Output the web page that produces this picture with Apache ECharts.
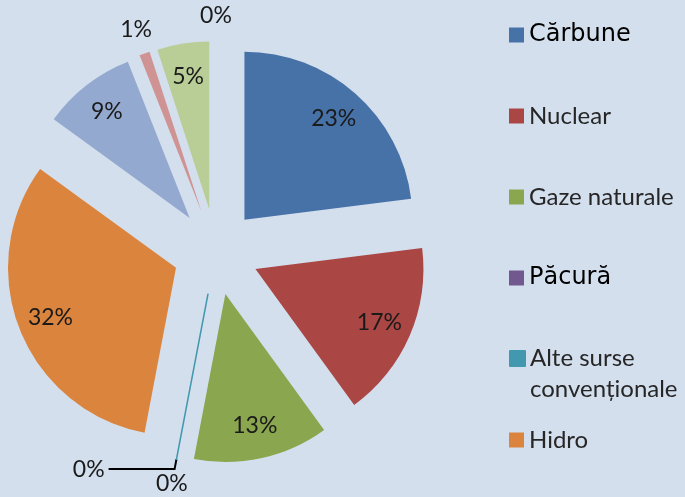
<!DOCTYPE html>
<html>
<head>
<meta charset="utf-8">
<script src="https://cdn.jsdelivr.net/npm/echarts@6/dist/echarts.min.js"></script>
<style>
  html, body { margin: 0; padding: 0; background: #D4DFEE; }
  #chart { width: 685px; height: 497px; }
</style>
</head>
<body>
<div id="chart"></div>
<script>
// ---- data ----
const categories = ['Cărbune', 'Nuclear', 'Gaze naturale', 'Păcură', 'Alte surse convenționale', 'Hidro', 'Eolian', 'Solar', 'Biomasă', 'Alte surse regenerabile'];
const values = [23, 17, 13, 0, 0, 32, 9, 1, 5, 0];
const legendShown = ['Cărbune', 'Nuclear', 'Gaze naturale', 'Păcură', 'Alte surse convenționale', 'Hidro'];
const colors = ['#4672A8', '#AA4644', '#8AA64E', '#71588F', '#4198AF', '#DB843D', '#94A9CF', '#D09393', '#B9CE96', '#A99BBD'];

// ---- layout / style ----
const CENTER = [216, 252];
const R = 168;
const OFFSET = 43;
const leaderIdx = 4;
const labelFont = { fontFamily: 'Lato', fontSize: 23, color: '#1a1a1a' };
const arialNames = ['Cărbune', 'Păcură'];

const chart = echarts.init(document.getElementById('chart'), null, { renderer: 'canvas' });

function baseSeries(radius) {
  return {
    type: 'pie',
    center: CENTER,
    radius: [0, radius],
    startAngle: 90,
    clockwise: true,
    selectedMode: 'multiple',
    selectedOffset: OFFSET,
    avoidLabelOverlap: false,
    silent: true,
    animation: false,
    percentPrecision: 0,
    emphasis: { disabled: true },
    label: { show: false },
    labelLine: { show: false }
  };
}

// visible sectors
const mainSeries = Object.assign(baseSeries(R), {
  data: categories.map((n, i) => {
    const item = { name: n, value: values[i], selected: true, itemStyle: { color: colors[i] } };
    if (i === leaderIdx) {
      item.itemStyle.borderColor = colors[i];
      item.itemStyle.borderWidth = 1.5;
      item.label = Object.assign({ show: true, position: 'outside', formatter: '{d}%', distanceToLabelLine: 4 }, labelFont);
      item.labelLine = { show: true, length: 10, length2: 66, smooth: false, lineStyle: { color: '#000', width: 2 } };
    }
    return item;
  })
});

// transparent helper pies that only place labels
function labelSeries(radius, pick) {
  return Object.assign(baseSeries(radius), {
    z: 5,
    data: categories.map((n, i) => ({
      name: n, value: values[i], selected: true,
      itemStyle: { color: 'rgba(0,0,0,0)' },
      label: Object.assign({ show: pick(i), position: 'inside', formatter: '{d}%' }, labelFont)
    }))
  });
}

const innerLabels = labelSeries(264, i => values[i] >= 5);
const outerLabels = labelSeries(380, i => values[i] < 5 && i !== leaderIdx);

function legendItem(name) {
  const isArial = arialNames.indexOf(name) >= 0;
  return {
    name: name,
    icon: 'rect',
    textStyle: isArial ? { fontFamily: 'DejaVu Sans', color: '#000', fontSize: 24 } : { fontFamily: 'Lato', color: '#262626', fontSize: 24 }
  };
}

const legendCommon = {
  orient: 'vertical',
  left: 504,
  itemWidth: 15,
  itemHeight: 15,
  itemGap: 51,
  selectedMode: false,
  textStyle: { fontSize: 24, lineHeight: 30, fontFamily: 'Lato', color: '#262626' }
};

chart.setOption({
  backgroundColor: '#D4DFEE',
  color: colors,
  legend: [
    Object.assign({}, legendCommon, { top: 15, data: legendShown.slice(0, 4).map(legendItem) }),
    Object.assign({}, legendCommon, {
      top: 307,
      textStyle: { fontSize: 24, lineHeight: 31, fontFamily: 'Lato', color: '#262626' },
      formatter: n => '\n' + n.replace(' convenționale', '\nconvenționale'),
      data: legendShown.slice(4, 5).map(legendItem)
    }),
    Object.assign({}, legendCommon, { top: 420, data: legendShown.slice(5, 6).map(legendItem) })
  ],
  series: [mainSeries, innerLabels, outerLabels]
});
</script>
</body>
</html>
